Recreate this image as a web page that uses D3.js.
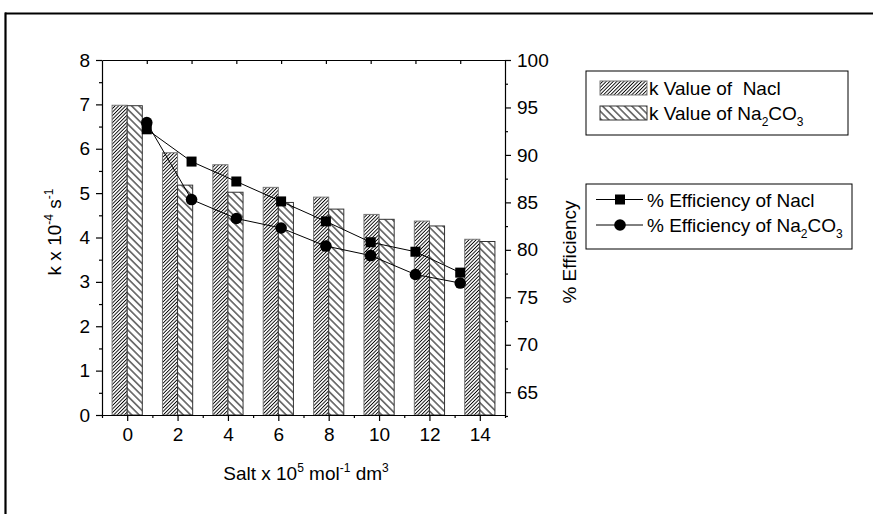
<!DOCTYPE html>
<html>
<head>
<meta charset="utf-8">
<script src="https://cdn.jsdelivr.net/npm/d3@7"></script>
<style>
  html, body { margin: 0; padding: 0; background: #fff; }
  svg { display: block; font-family: "Liberation Sans", Arial, sans-serif; }
</style>
</head>
<body>
<svg id="chart" width="873" height="514"></svg>
<script>
// Salt concentration categories (x 10^5 mol^-1 dm^3)
const saltConc = [0, 2, 4, 6, 8, 10, 12, 14];
// Rate constants k x 10^-4 s^-1
const kNacl = [6.98, 5.91, 5.64, 5.13, 4.91, 4.52, 4.37, 3.96];
const kNa2CO3 = [6.97, 5.18, 5.02, 4.79, 4.64, 4.41, 4.26, 3.91];
// Efficiency series, plotted on their own index axis (1..8)
const effIndex = [1, 2, 3, 4, 5, 6, 7, 8];
const effNacl = [92.7, 89.3, 87.2, 85.1, 83.0, 80.8, 79.8, 77.6];
const effNa2CO3 = [93.4, 85.3, 83.3, 82.3, 80.4, 79.4, 77.4, 76.5];
// Axis ticks
const xTicks = [0, 2, 4, 6, 8, 10, 12, 14];
const yLeftTicks = [0, 1, 2, 3, 4, 5, 6, 7, 8];
const yRightTicks = [65, 70, 75, 80, 85, 90, 95, 100];

const svg = d3.select("#chart");
const L = 102, R = 505, T = 60, B = 415;
const FS = 19;

const x = d3.scaleLinear().domain([-1, 15]).range([L, R]);
const xIdx = d3.scaleLinear().domain([0, 9]).range([L, R]);
const yL = d3.scaleLinear().domain([0, 8]).range([B, T]);
const yR = d3.scaleLinear().domain([62.6, 100]).range([B, T]);
const barW = 0.6;

// outer frame (top and left edges)
svg.append("line").attr("x1", 5).attr("x2", 873).attr("y1", 13.5).attr("y2", 13.5)
  .attr("stroke", "#000").attr("stroke-width", 2.2);
svg.append("line").attr("x1", 5.5).attr("x2", 5.5).attr("y1", 12.5).attr("y2", 514)
  .attr("stroke", "#000").attr("stroke-width", 2.2);

// hatch patterns
const defs = svg.append("defs");
function hatch(id, spacing, angle, sw) {
  const p = defs.append("pattern").attr("id", id)
    .attr("patternUnits", "userSpaceOnUse")
    .attr("width", spacing).attr("height", spacing)
    .attr("patternTransform", `rotate(${angle})`);
  p.append("rect").attr("width", spacing).attr("height", spacing).attr("fill", "#fff");
  p.append("line").attr("x1", spacing / 2).attr("x2", spacing / 2)
    .attr("y1", 0).attr("y2", spacing).attr("stroke", "#000").attr("stroke-width", sw);
}
hatch("hatchNacl", 2.5, 45, 0.9);
hatch("hatchNa2", 5.2, -45, 1);

// bars
const g = svg.append("g");
g.selectAll("rect.nacl").data(saltConc).enter().append("rect")
  .attr("class", "nacl")
  .attr("x", d => x(d - barW)).attr("width", d => x(d) - x(d - barW))
  .attr("y", (d, i) => yL(kNacl[i])).attr("height", (d, i) => yL(0) - yL(kNacl[i]))
  .attr("fill", "url(#hatchNacl)").attr("stroke", "#777").attr("stroke-width", 1);
g.selectAll("rect.na2").data(saltConc).enter().append("rect")
  .attr("class", "na2")
  .attr("x", d => x(d)).attr("width", d => x(d + barW) - x(d))
  .attr("y", (d, i) => yL(kNa2CO3[i])).attr("height", (d, i) => yL(0) - yL(kNa2CO3[i]))
  .attr("fill", "url(#hatchNa2)").attr("stroke", "#333").attr("stroke-width", 1);

// axes
const axisStyle = sel => {
  sel.selectAll("path").attr("stroke", "#000").attr("stroke-width", 1.2);
  sel.selectAll("line").attr("stroke", "#000").attr("stroke-width", 1.2);
  sel.selectAll("text").attr("font-size", FS).attr("fill", "#000")
    .attr("font-family", "'Liberation Sans', Arial, sans-serif");
};

// bottom
const xAx = svg.append("g").attr("transform", `translate(0,${B})`)
  .call(d3.axisBottom(x).tickValues(xTicks).tickSize(6).tickSizeOuter(0).tickPadding(7).tickFormat(d3.format("d")));
axisStyle(xAx);
svg.append("g").attr("transform", `translate(0,${B})`)
  .call(d3.axisBottom(x).tickValues(d3.range(-1, 16, 2)).tickSize(3).tickFormat(""))
  .call(s => { s.select("path").remove(); s.selectAll("line").attr("stroke", "#000").attr("stroke-width", 1.2); });

// top
const topAx = svg.append("g").attr("transform", `translate(0,${T})`)
  .call(d3.axisBottom(xIdx).tickValues(effIndex).tickSize(4).tickSizeOuter(0).tickFormat(""));
axisStyle(topAx);

// left
const yAxL = svg.append("g").attr("transform", `translate(${L},0)`)
  .call(d3.axisLeft(yL).tickValues(yLeftTicks).tickSize(6).tickSizeOuter(0).tickPadding(6).tickFormat(d3.format("d")));
axisStyle(yAxL);
svg.append("g").attr("transform", `translate(${L},0)`)
  .call(d3.axisLeft(yL).tickValues(d3.range(0.5, 8, 1)).tickSize(3).tickFormat(""))
  .call(s => { s.select("path").remove(); s.selectAll("line").attr("stroke", "#000").attr("stroke-width", 1.2); });

// right
const yAxR = svg.append("g").attr("transform", `translate(${R},0)`)
  .call(d3.axisRight(yR).tickValues(yRightTicks).tickSize(6).tickSizeOuter(0).tickPadding(6).tickFormat(d3.format("d")));
axisStyle(yAxR);
svg.append("g").attr("transform", `translate(${R},0)`)
  .call(d3.axisRight(yR).tickValues([62.5, 67.5, 72.5, 77.5, 82.5, 87.5, 92.5, 97.5]).tickSize(3).tickFormat(""))
  .call(s => { s.select("path").remove(); s.selectAll("line").attr("stroke", "#000").attr("stroke-width", 1.2); });

// efficiency lines
const lineN = d3.line().x((d, i) => xIdx(effIndex[i])).y(d => yR(d));
svg.append("path").datum(effNacl).attr("d", lineN)
  .attr("fill", "none").attr("stroke", "#000").attr("stroke-width", 1);
svg.append("path").datum(effNa2CO3).attr("d", lineN)
  .attr("fill", "none").attr("stroke", "#000").attr("stroke-width", 1);
const sq = 10;
svg.selectAll("rect.mk").data(effNacl).enter().append("rect")
  .attr("x", (d, i) => xIdx(effIndex[i]) - sq / 2).attr("y", d => yR(d) - sq / 2)
  .attr("width", sq).attr("height", sq).attr("fill", "#000");
svg.selectAll("circle.mk").data(effNa2CO3).enter().append("circle")
  .attr("cx", (d, i) => xIdx(effIndex[i])).attr("cy", d => yR(d)).attr("r", 5.8).attr("fill", "#000");

// axis titles
function richText(sel, parts, baseSize) {
  parts.forEach(p => {
    const t = sel.append("tspan").text(p.t);
    if (p.sup) t.attr("font-size", baseSize * 0.62).attr("dy", -8);
    else if (p.sub) t.attr("font-size", baseSize * 0.62).attr("dy", 6);
    else t.attr("font-size", baseSize);
    if (p.reset) t.attr("dy", p.reset);
  });
}
const xt = svg.append("text").attr("x", 306).attr("y", 480).attr("text-anchor", "middle")
  .attr("font-size", FS);
xt.append("tspan").text("Salt x 10");
xt.append("tspan").text("5").attr("font-size", 12).attr("dy", -8);
xt.append("tspan").text(" mol").attr("dy", 8);
xt.append("tspan").text("-1").attr("font-size", 12).attr("dy", -8);
xt.append("tspan").text(" dm").attr("dy", 8);
xt.append("tspan").text("3").attr("font-size", 12).attr("dy", -8);

const ylt = svg.append("text").attr("transform", "translate(61,232) rotate(-90)")
  .attr("text-anchor", "middle").attr("font-size", FS);
ylt.append("tspan").text("k x 10");
ylt.append("tspan").text("-4").attr("font-size", 12).attr("dy", -8);
ylt.append("tspan").text(" s").attr("dy", 8);
ylt.append("tspan").text("-1").attr("font-size", 12).attr("dy", -8);

svg.append("text").attr("transform", "translate(576,252) rotate(-90)")
  .attr("text-anchor", "middle").attr("font-size", FS).text("% Efficiency");

// legend: bars
svg.append("rect").attr("x", 586).attr("y", 71).attr("width", 262).attr("height", 64)
  .attr("fill", "#fff").attr("stroke", "#000").attr("stroke-width", 1);
const legBars = [
  { fill: "url(#hatchNacl)", stroke: "#777", y: 81, parts: [["k Value of  Nacl"]] },
  { fill: "url(#hatchNa2)", stroke: "#333", y: 106, parts: [["k Value of Na"], ["2", "sub"], ["CO"], ["3", "sub"]] }
];
legBars.forEach(lb => {
  svg.append("rect").attr("x", 600).attr("y", lb.y).attr("width", 47).attr("height", 14)
    .attr("fill", lb.fill).attr("stroke", lb.stroke);
  const t = svg.append("text").attr("x", 649).attr("y", lb.y + 13.5).attr("font-size", FS)
    .style("white-space", "pre");
  lb.parts.forEach(([s, k]) => {
    const ts = t.append("tspan").text(s);
    if (k === "sub") ts.attr("font-size", 12).attr("dy", 6);
    else if (t.selectAll("tspan").size() > 1) ts.attr("dy", -6);
  });
});

// legend: lines
svg.append("rect").attr("x", 586).attr("y", 184).attr("width", 266).attr("height", 65)
  .attr("fill", "#fff").attr("stroke", "#000").attr("stroke-width", 1);
const legLines = [
  { mark: "square", y: 199.5, parts: [["% Efficiency of Nacl"]] },
  { mark: "circle", y: 225, parts: [["% Efficiency of Na"], ["2", "sub"], ["CO"], ["3", "sub"]] }
];
legLines.forEach(ll => {
  svg.append("line").attr("x1", 596).attr("x2", 643).attr("y1", ll.y).attr("y2", ll.y)
    .attr("stroke", "#000").attr("stroke-width", 1);
  if (ll.mark === "square") {
    svg.append("rect").attr("x", 620 - 5).attr("y", ll.y - 5).attr("width", 10).attr("height", 10).attr("fill", "#000");
  } else {
    svg.append("circle").attr("cx", 620).attr("cy", ll.y).attr("r", 5.8).attr("fill", "#000");
  }
  const t = svg.append("text").attr("x", 647).attr("y", ll.y + 7).attr("font-size", FS);
  ll.parts.forEach(([s, k]) => {
    const ts = t.append("tspan").text(s);
    if (k === "sub") ts.attr("font-size", 12).attr("dy", 6);
    else if (t.selectAll("tspan").size() > 1) ts.attr("dy", -6);
  });
});
</script>
</body>
</html>
